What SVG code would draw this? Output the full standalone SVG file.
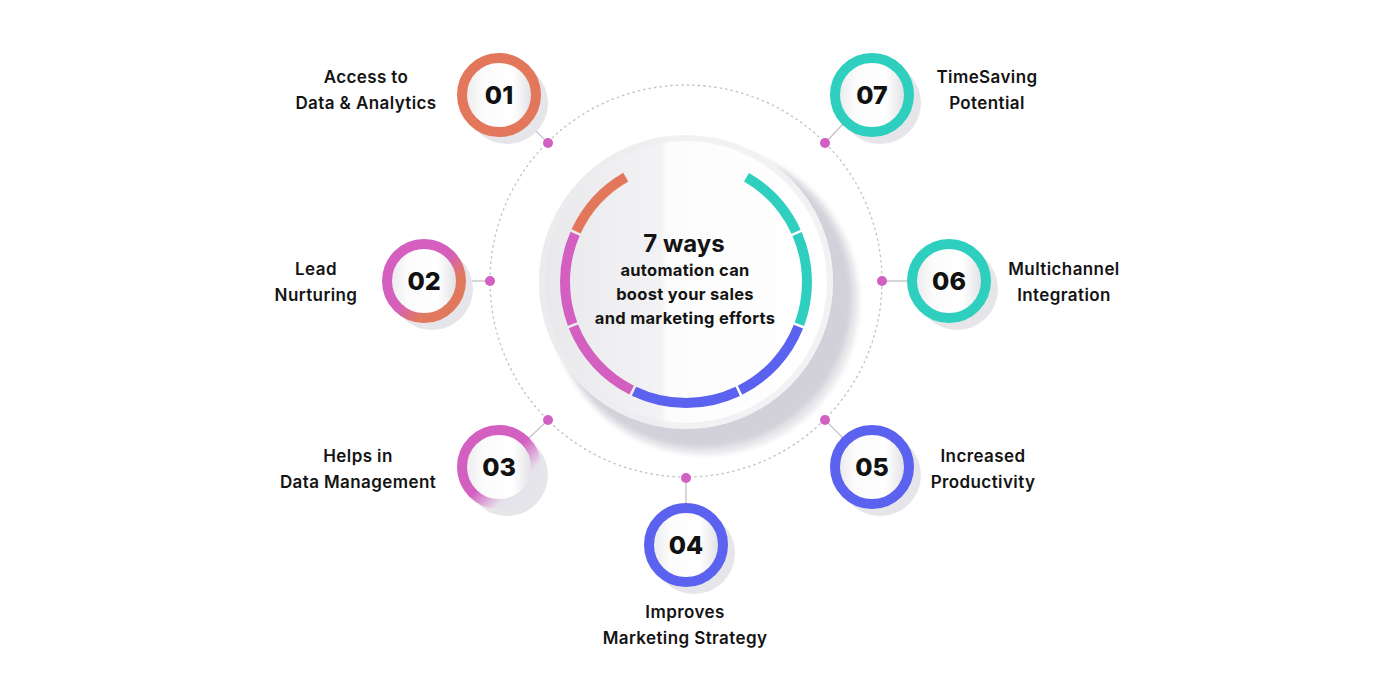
<svg xmlns="http://www.w3.org/2000/svg" width="1400" height="700" viewBox="0 0 1400 700">
<defs>
<style>
.lbl{font-family:Inter,"Liberation Sans",sans-serif;font-weight:600;font-size:17px;fill:#141414;text-anchor:middle;letter-spacing:0.4px}
.num{font-family:Inter,"Liberation Sans",sans-serif;font-weight:800;font-size:25px;fill:#111;text-anchor:middle}
.ctr{font-family:Inter,"Liberation Sans",sans-serif;font-weight:700;font-size:16.5px;fill:#141414;text-anchor:middle;letter-spacing:0.3px}
.dot{fill:#d25fc2}
.conn{stroke:#c9c9cd;stroke-width:1.5;fill:none}
.nshadow{fill:#e6e6ea}
.ninner{fill:url(#innerGrad)}
.ring{fill:none;stroke-width:10}
.seg{fill:none;stroke-width:10}
</style>
<linearGradient id="innerGrad" x1="0" y1="0" x2="1" y2="0">
<stop offset="0" stop-color="#ececef"/>
<stop offset="0.25" stop-color="#fbfbfb"/>
<stop offset="0.7" stop-color="#ffffff"/>
<stop offset="0.85" stop-color="#f1f1f3"/>
<stop offset="1" stop-color="#e0e0e5"/>
</linearGradient>
<linearGradient id="g02" x1="0" y1="0" x2="1" y2="1">
<stop offset="0" stop-color="#d35fc1"/>
<stop offset="0.5" stop-color="#d65fbb"/>
<stop offset="0.72" stop-color="#e0795e"/>
<stop offset="1" stop-color="#e2775c"/>
</linearGradient>
<linearGradient id="g03" x1="0" y1="0" x2="1" y2="1">
<stop offset="0" stop-color="#d35fc1"/>
<stop offset="0.5" stop-color="#d35fc1"/>
<stop offset="0.75" stop-color="#e6e2ea"/>
<stop offset="1" stop-color="#e6e6ea"/>
</linearGradient>
<linearGradient id="bigGrad" gradientUnits="userSpaceOnUse" x1="539" y1="0" x2="833" y2="0">
<stop offset="0" stop-color="#e8e8eb"/>
<stop offset="0.3" stop-color="#f0f0f2"/>
<stop offset="0.41" stop-color="#f2f2f4"/>
<stop offset="0.44" stop-color="#fcfcfc"/>
<stop offset="1" stop-color="#ffffff"/>
</linearGradient>
<filter id="blur" x="-20%" y="-20%" width="140%" height="140%">
<feGaussianBlur stdDeviation="2.5"/>
</filter>
</defs>
<rect width="1400" height="700" fill="#ffffff"/>

<!-- dotted orbit -->
<circle cx="686" cy="281" r="196" fill="none" stroke="#c2c2c6" stroke-width="1.3" stroke-dasharray="2.5 3"/>

<!-- center hub -->
<g id="hub">
<circle cx="705" cy="301" r="154" fill="#e8e8ec" filter="url(#blur)"/>
<circle cx="702" cy="298" r="150" fill="#d2d1d9" filter="url(#blur)"/>
<circle cx="686" cy="282" r="147" fill="url(#bigGrad)"/>
<circle cx="686" cy="282" r="144" fill="none" stroke="#ededf0" stroke-width="6" opacity="0.7"/>
<g transform="rotate(-90 686 282)">
<circle class="seg" cx="686" cy="282" r="121" stroke="#2ecfbe" stroke-dasharray="74.76 760.27" stroke-dashoffset="-63.36"/>
<circle class="seg" cx="686" cy="282" r="121" stroke="#2ecfbe" stroke-dasharray="92.50 760.27" stroke-dashoffset="-140.65"/>
<circle class="seg" cx="686" cy="282" r="121" stroke="#5b62ef" stroke-dasharray="88.28 760.27" stroke-dashoffset="-235.68"/>
<circle class="seg" cx="686" cy="282" r="121" stroke="#5b62ef" stroke-dasharray="107.28 760.27" stroke-dashoffset="-326.49"/>
<circle class="seg" cx="686" cy="282" r="121" stroke="#d35fc1" stroke-dasharray="88.28 760.27" stroke-dashoffset="-436.31"/>
<circle class="seg" cx="686" cy="282" r="121" stroke="#d35fc1" stroke-dasharray="92.50 760.27" stroke-dashoffset="-527.12"/>
<circle class="seg" cx="686" cy="282" r="121" stroke="#e2775c" stroke-dasharray="74.76 760.27" stroke-dashoffset="-622.15"/>
</g>
<text class="ctr" x="684" y="252" style="font-size:24px;letter-spacing:0">7 ways</text>
<text class="ctr" x="685" y="276">automation can</text>
<text class="ctr" x="685" y="300">boost your sales</text>
<text class="ctr" x="685" y="324">and marketing efforts</text>
</g>

<!-- connectors -->
<g id="connectors">
<line class="conn" x1="548" y1="143" x2="529" y2="124"/>
<line class="conn" x1="490" y1="281" x2="466" y2="281"/>
<line class="conn" x1="548" y1="420" x2="529" y2="438"/>
<line class="conn" x1="686" y1="478" x2="686" y2="503"/>
<line class="conn" x1="825" y1="420" x2="843" y2="438"/>
<line class="conn" x1="882" y1="281" x2="907" y2="281"/>
<line class="conn" x1="825" y1="143" x2="843" y2="124"/>
<circle class="dot" cx="548" cy="143" r="5"/>
<circle class="dot" cx="490" cy="281" r="5"/>
<circle class="dot" cx="548" cy="420" r="5"/>
<circle class="dot" cx="686" cy="478" r="5"/>
<circle class="dot" cx="825" cy="420" r="5"/>
<circle class="dot" cx="882" cy="281" r="5"/>
<circle class="dot" cx="825" cy="143" r="5"/>
</g>

<g id="node01">
<circle class="nshadow" cx="507" cy="103" r="41"/>
<circle class="ninner" cx="499" cy="95" r="33"/>
<circle class="ring" cx="499" cy="95" r="37" stroke="#e2775c"/>
<text class="num" x="499" y="104">01</text>
<text class="lbl" x="366" y="83">Access to</text>
<text class="lbl" x="366" y="109">Data &amp; Analytics</text>
</g>

<g id="node02">
<circle class="nshadow" cx="432" cy="289" r="41"/>
<circle class="ninner" cx="424" cy="281" r="33"/>
<circle class="ring" cx="424" cy="281" r="37" stroke="url(#g02)"/>
<text class="num" x="424" y="290">02</text>
<text class="lbl" x="316" y="275">Lead</text>
<text class="lbl" x="316" y="301">Nurturing</text>
</g>

<g id="node03">
<circle class="nshadow" cx="507" cy="475" r="41"/>
<circle class="ninner" cx="499" cy="467" r="33"/>
<circle class="ring" cx="499" cy="467" r="37" stroke="url(#g03)"/>
<text class="num" x="499" y="476">03</text>
<text class="lbl" x="358" y="462">Helps in</text>
<text class="lbl" x="358" y="488">Data Management</text>
</g>

<g id="node04">
<circle class="nshadow" cx="694" cy="553" r="41"/>
<circle class="ninner" cx="686" cy="545" r="33"/>
<circle class="ring" cx="686" cy="545" r="37" stroke="#5b62ef"/>
<text class="num" x="686" y="554">04</text>
<text class="lbl" x="685" y="618">Improves</text>
<text class="lbl" x="685" y="644">Marketing Strategy</text>
</g>

<g id="node05">
<circle class="nshadow" cx="880" cy="475" r="41"/>
<circle class="ninner" cx="872" cy="467" r="33"/>
<circle class="ring" cx="872" cy="467" r="37" stroke="#5b62ef"/>
<text class="num" x="872" y="476">05</text>
<text class="lbl" x="983" y="462">Increased</text>
<text class="lbl" x="983" y="488">Productivity</text>
</g>

<g id="node06">
<circle class="nshadow" cx="957" cy="289" r="41"/>
<circle class="ninner" cx="949" cy="281" r="33"/>
<circle class="ring" cx="949" cy="281" r="37" stroke="#2ecfbe"/>
<text class="num" x="949" y="290">06</text>
<text class="lbl" x="1064" y="275">Multichannel</text>
<text class="lbl" x="1064" y="301">Integration</text>
</g>

<g id="node07">
<circle class="nshadow" cx="880" cy="103" r="41"/>
<circle class="ninner" cx="872" cy="95" r="33"/>
<circle class="ring" cx="872" cy="95" r="37" stroke="#2ecfbe"/>
<text class="num" x="872" y="104">07</text>
<text class="lbl" x="987" y="83">TimeSaving</text>
<text class="lbl" x="987" y="109">Potential</text>
</g>
</svg>
